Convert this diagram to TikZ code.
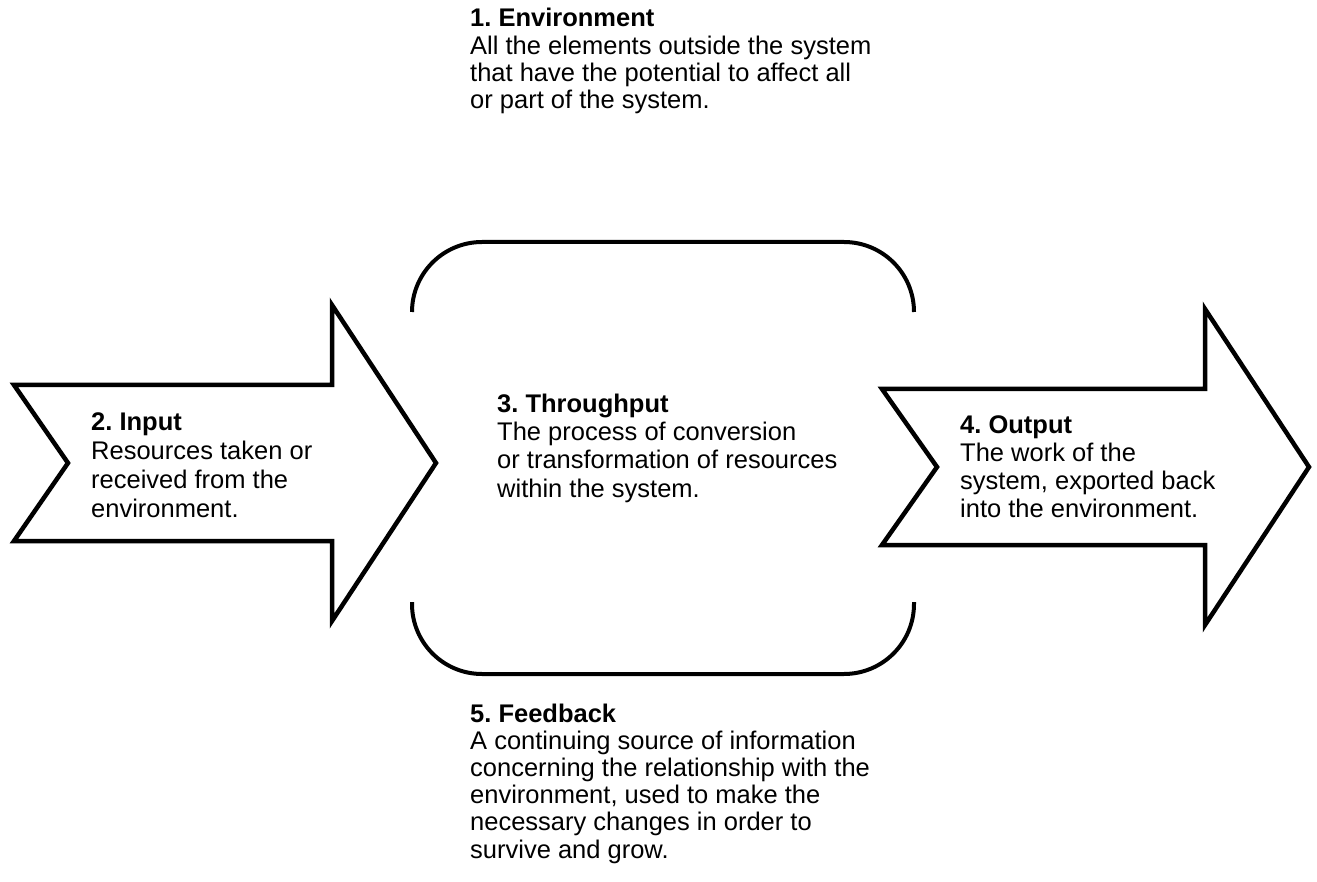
\documentclass[tikz,border=0pt]{standalone}
\usepackage{fontspec}
\setmainfont{Liberation Sans}
\frenchspacing
\begin{document}
\begin{tikzpicture}[x=1pt,y=-1pt,
  shapeline/.style={line width=4.5pt, line join=miter, miter limit=10},
  bracket/.style={line width=4pt, rounded corners=70pt},
  desc/.style={anchor=base west, align=left, inner sep=0pt},
  pitch/.style={font=\fontsize{25.5}{#1}\selectfont}]
\useasboundingbox (0,0) rectangle (1317,882);
% input arrow
\draw[shapeline] (14,385) -- (332,385) -- (332,305) -- (436,463) -- (332,621) -- (332,541) -- (14,541) -- (68,463) -- cycle;
% output arrow
\draw[shapeline] (882,389) -- (1205,389) -- (1205,309) -- (1309,467) -- (1205,625) -- (1205,545) -- (882,545) -- (937,467) -- cycle;
% throughput brackets
\draw[bracket] (412,312) -- (412,242) -- (914,242) -- (914,312);
\draw[bracket] (412,602) -- (412,674) -- (914,674) -- (914,602);
% texts (anchored at the baseline of their last line)
\node[desc, pitch=27.2] (env) at (470,108.5) {\textbf{1. Environment}\\All the elements outside the system\\that have the potential to affect all\\or part of the system.};
\node[desc, pitch=29] (inp) at (91,517) {\textbf{2. Input}\\Resources taken or\\received from the\\environment.};
\node[desc, pitch=28.3] (thr) at (497,497) {\textbf{3. Throughput}\\The process of conversion\\or transformation of resources\\within the system.};
\node[desc, pitch=28] (out) at (960,517) {\textbf{4. Output}\\The work of the\\system, exported back\\into the environment.};
\node[desc, pitch=27.2] (fb) at (470,858) {\textbf{5. Feedback}\\A continuing source of information\\concerning the relationship with the\\environment, used to make the\\necessary changes in order to\\survive and grow.};
\end{tikzpicture}
\end{document}
